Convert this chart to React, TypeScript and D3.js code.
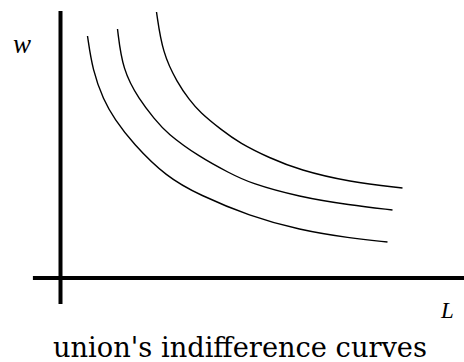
import React from "react";
import * as d3 from "d3";

// Indifference curves (L, w)
const curve1L = [6.75, 8, 10.75, 13.5, 18, 26.5, 34.75, 47.25, 59.75, 72.25, 81.75];
const curve1W = [60.5, 52, 44.5, 39.75, 33.75, 25.25, 20.75, 15.5, 12, 10, 9];
const curve2L = [14.25, 15.5, 19.75, 23.5, 26.5, 34.75, 42.25, 47.25, 59.75, 72.25, 83];
const curve2W = [62.25, 52, 44.5, 39.75, 36.25, 30.25, 26.25, 23.75, 20.25, 18.25, 17];
const curve3L = [24, 25.5, 29.25, 32.25, 34.75, 40.25, 44.75, 52.25, 59.75, 72.25, 85.5];
const curve3W = [66.5, 56.25, 48.75, 44.5, 41.5, 37, 33.75, 30, 27, 24, 22.5];

const xLabel = "L";
const yLabel = "w";
const caption = "union's indifference curves";

export default function App() {
  const W = 464;
  const H = 362;
  const x = d3.scaleLinear().domain([0, 100]).range([60.5, 460.5]);
  const y = d3.scaleLinear().domain([0, 70]).range([278, -2]);

  const curves = [
    [curve1L, curve1W],
    [curve2L, curve2W],
    [curve3L, curve3W],
  ].map(([ls, ws]) => ls.map((l, i) => [l, ws[i]] as [number, number]));

  const line = d3
    .line<[number, number]>()
    .x((d) => x(d[0]))
    .y((d) => y(d[1]))
    .curve(d3.curveBasis);

  return (
    <svg
      width={W}
      height={H}
      style={{ position: "absolute", left: 0, top: 0, background: "#fff" }}
    >
      {/* axes */}
      <line x1={x(0)} x2={x(0)} y1={y(66.75)} y2={y(-6.5)} stroke="#000" strokeWidth={4} />
      <line x1={x(-6.9)} x2={x(101)} y1={y(0)} y2={y(0)} stroke="#000" strokeWidth={4} />
      {curves.map((c, i) => (
        <path key={i} d={line(c) || ""} fill="none" stroke="#000" strokeWidth={1.4} />
      ))}
      <text x={13} y={53} fontFamily="Liberation Serif" fontStyle="italic" fontSize={27}>
        {yLabel}
      </text>
      <text x={441} y={318} fontFamily="Liberation Serif" fontStyle="italic" fontSize={23}>
        {xLabel}
      </text>
      <text
        x={53}
        y={357}
        fontFamily="DejaVu Serif"
        fontSize={27}
        textLength={374}
        lengthAdjust="spacingAndGlyphs"
      >
        {caption}
      </text>
    </svg>
  );
}
